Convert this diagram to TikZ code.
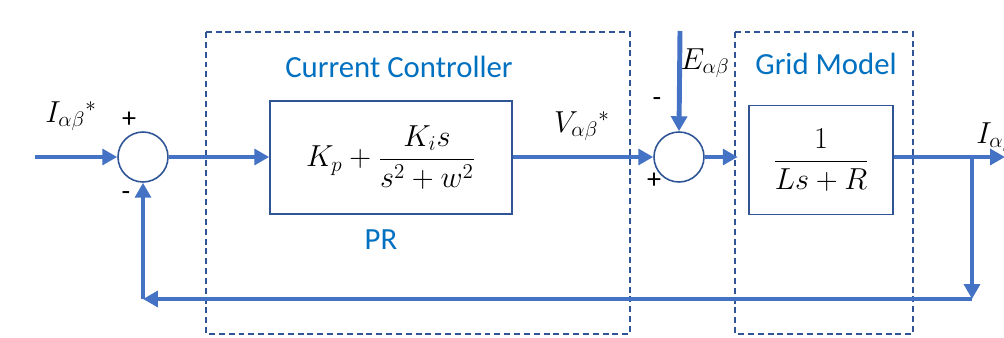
\documentclass[tikz,border=0pt]{standalone}
\usepackage{fontspec}
\setmainfont{Carlito}
\usetikzlibrary{arrows.meta,positioning}

\definecolor{flowblue}{HTML}{4472C4}
\definecolor{edgeblue}{HTML}{2F5597}
\definecolor{labelblue}{HTML}{0070C0}

\tikzset{
	flow/.style={flowblue, line width=2.8pt, -{Triangle[length=8.5pt,width=9pt]}},
	sumnode/.style={circle, draw=edgeblue, line width=0.9pt, minimum size=1cm, inner sep=0pt},
	blockbox/.style={draw=edgeblue, line width=0.9pt, inner sep=0pt, font=\fontsize{17}{20}\selectfont},
	groupbox/.style={draw=edgeblue, line width=0.9pt, dash pattern=on 3.4pt off 2.2pt},
	grouplabel/.style={labelblue, font=\fontsize{17.5}{21}\selectfont},
	signal/.style={inner sep=0pt, font=\fontsize{17}{20}\selectfont},
	signmark/.style={inner sep=0pt, font=\fontsize{16}{18}\selectfont},
}

\begin{document}
\begin{tikzpicture}[x=0.02cm, y=-0.02cm]
	\useasboundingbox (0,0) rectangle (1004,338);
	
	% Group frames
	\draw[groupbox] (206,32) rectangle (630,334);
	\draw[groupbox] (735,32) rectangle (913,334);
	\node[grouplabel] (cclabel) at (399,67) {Current Controller};
	\node[grouplabel] (gmlabel) at (826,64) {Grid Model};
	\node[grouplabel] (prlabel) at (381,240) {PR};
	
	% Summing junctions
	\node[sumnode] (sum1) at (143,157) {};
	\node[sumnode] (sum2) at (679,157) {};
	
	% Blocks
	\node[blockbox, minimum width=4.84cm, minimum height=2.26cm] (pr) at (391,157.5)
		{$\displaystyle K_p+\frac{K_i s}{s^2+w^2}$};
	\node[blockbox, minimum width=2.88cm, minimum height=2.18cm] (grid) at (821,160)
		{$\displaystyle \frac{1}{Ls+R}$};
	
	% Free ends
	\coordinate (iref) at (35,157);
	\coordinate (eref) at (680,31);
	\coordinate (iout) at (1005,157);
	\coordinate (branch) at (972,157);
	\coordinate (fbright) at (972,299);
	\coordinate (fbleft) at (143,299);
	
	% Forward path
	\draw[flow] (iref) -- (sum1.west);
	\draw[flow] (sum1.east) -- (sum1.east -| pr.west);
	\draw[flow] (sum1.east -| pr.east) -- (sum2.west);
	\draw[flow] (eref) -- (sum2.north);
	\draw[flow, shorten >=6pt] (sum2.east) -- (sum2.east -| grid.west);
	\draw[flow] (sum2.east -| grid.east) -- (iout);
	
	% Feedback path
	\draw[flow] (branch) -- (fbright);
	\draw[flow] (fbright) -- (fbleft);
	\draw[flow] (fbleft) -- (sum1.south);
	
	% Signal labels
	\node[signal] (ilabel) at (71,116) {$I_{\alpha\beta}{}^{*}$};
	\node[signal] (vlabel) at (582,126) {$V_{\alpha\beta}{}^{*}$};
	\node[signal] (elabel) at (705,63) {$E_{\alpha\beta}$};
	\node[signal, anchor=base west] (olabel) at (976,143) {$I_{\alpha\beta}$};
	
	% Signs
	\node[signmark] (p1) at (129,120) {+};
	\node[signmark] (m1) at (126,196) {-};
	\node[signmark] (m2) at (657,102) {-};
	\node[signmark] (p2) at (654,181) {+};
	
\end{tikzpicture}
\end{document}
